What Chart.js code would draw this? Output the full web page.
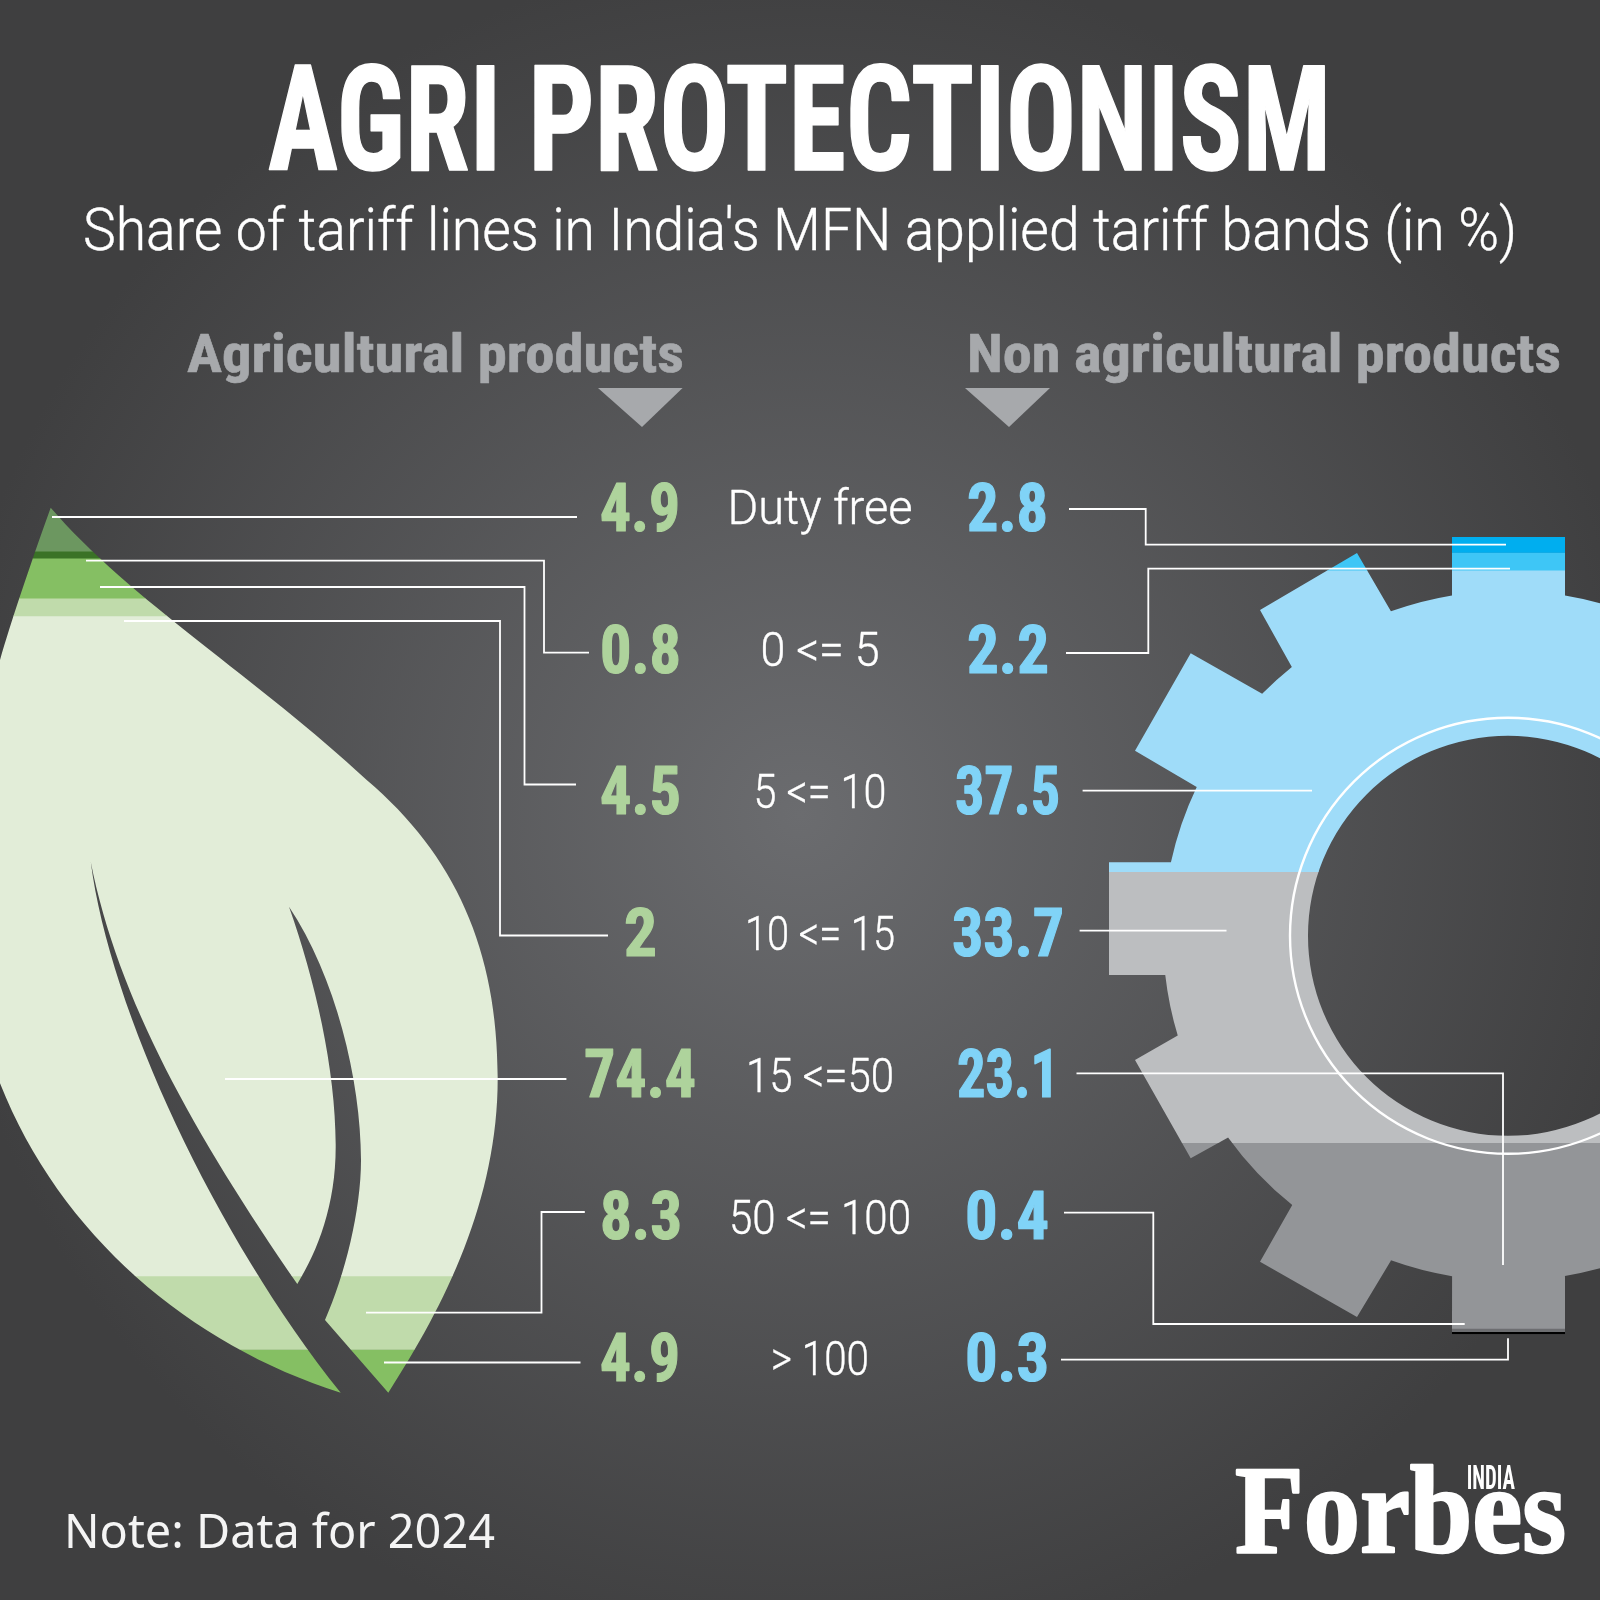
<!DOCTYPE html>
<html><head><meta charset="utf-8">
<style>html,body{margin:0;padding:0;background:#3f3f40}canvas{display:block}</style>
<script src="https://cdn.jsdelivr.net/npm/chart.js@4"></script>
</head><body>
<canvas id="c" width="1600" height="1600"></canvas>
<script>
// ---------- data ----------
const categories = ['Duty free','0 <= 5','5 <= 10','10 <= 15','15 <=50','50 <= 100','> 100'];
const agriValues = [4.9,0.8,4.5,2,74.4,8.3,4.9];
const nonAgriValues = [2.8,2.2,37.5,33.7,23.1,0.4,0.3];
const agriText = ['4.9','0.8','4.5','2','74.4','8.3','4.9'];
const nonAgriText = ['2.8','2.2','37.5','33.7','23.1','0.4','0.3'];
const groups = ['Agricultural products','Non agricultural products'];
const agriColors = ['#6c9760','#3a7226','#85bf63','#c0dbab','#e2edd8','#c0dbab','#85bf63'];
const nonAgriColors = ['#00aeef','#3ec6f6','#9fdcf9','#bcbec0','#939598','#6d6e71','#000000'];

// ---------- layout (decoration, not data) ----------
const NARROW = '"Liberation Sans Narrow","Roboto Condensed",Roboto,sans-serif';
const LIGHT = 'Roboto,sans-serif';
const leafTop = 507.7, leafPxPerUnit = 8.87;
const gearTop = 530, gearPxPerUnit = 8.04;
const gc = {x:1508,y:935.8,body:345,hole:200,ring:218};
// leaf silhouette: start point, then cubic segments (6 numbers) or straight lines (2 numbers)
const leafStart = [50.7,507.7];
const leafOutline = [
 [130,600,260,680,366.7,780],
 [455,855,497.7,950,497.7,1078],
 [497.7,1200,445,1305,388.3,1392.7],
 [325,1320],
 [345,1275,361,1210,361,1160],
 [361,1080,335,975,289,906.7],
 [315,980,336,1070,335.7,1146.7],
 [335.7,1205,318,1250,297.3,1284],
 [195,1135,118,1000,90.7,861.7],
 [110,1010,215,1235,340.7,1392.7],
 [190,1345,60,1235,0,1083.3],
 [-10,1055],[-10,660],[0,660],
 [10,625,30,565,50.7,507.7]
];
// gear outline: 'L' straight corner, 'A' arc along the body circle to this point
const gearOutline = [
 ['L',1565,595.7],['L',1565,537],['L',1452,537],['L',1452,595.7],
 ['A',1390.7,610.7],['L',1357,553],['L',1260,610],['L',1291.7,666.7],
 ['A',1261.7,693.3],['L',1190.7,653.3],['L',1135,750.7],['L',1196.7,787],
 ['A',1171,862.3],['L',1109,862.3],['L',1109,975],['L',1166,975],
 ['A',1177.3,1035.7],['L',1135,1060],['L',1190.7,1158.3],['L',1227.7,1137.7],
 ['A',1291.7,1205.7],['L',1260,1261.7],['L',1357,1317],['L',1390.7,1261],
 ['A',1452,1276.7],['L',1452,1334.3],['L',1565,1334.3],['L',1565,1276.7],
 ['A',1565,595.7]
];
const leaders = [
 [[52,517],[577,517]],
 [[86,560.7],[544,560.7],[544,652.7],[589,652.7]],
 [[100,587],[524.5,587],[524.5,784.5],[576,784.5]],
 [[124,621],[500,621],[500,935.5],[608,935.5]],
 [[225,1079],[566.4,1079]],
 [[366,1312.7],[541.5,1312.7],[541.5,1212],[584.8,1212]],
 [[384,1362.5],[580.5,1362.5]],
 [[1069,509],[1145.7,509],[1145.7,544.7],[1506,544.7]],
 [[1066,653],[1148.3,653],[1148.3,568.7],[1510,568.7]],
 [[1082.6,790.7],[1312,790.7]],
 [[1079.6,930.6],[1226.5,930.6]],
 [[1076.5,1073.3],[1503,1073.3],[1503,1265]],
 [[1064,1212.7],[1153.3,1212.7],[1153.3,1324],[1464.7,1324]],
 [[1061,1359.7],[1508,1359.7],[1508,1338.3]]
];
const valueBaselines = [531,672.5,814,955.5,1097,1238.5,1380.5];
const catBaselines = [524,666,808,950,1092,1233.5,1375];
const catWidths = [185,119,133,150,148,182,98];
const agriExtent = [[600,680],[600,681],[600,681],[624,657],[584,696],[600,682],[600,680]];
const nonAgriExtent = [[967,1048],[967,1049],[955,1060],[952,1064],[957,1059],[965,1049],[965,1049]];

function leafPath(ctx){
  ctx.beginPath();
  ctx.moveTo(leafStart[0],leafStart[1]);
  leafOutline.forEach(s=>{
    if(s.length===2) ctx.lineTo(s[0],s[1]);
    else ctx.bezierCurveTo(s[0],s[1],s[2],s[3],s[4],s[5]);
  });
  ctx.closePath();
}
function gearPath(ctx){
  ctx.beginPath();
  let prev=null;
  gearOutline.forEach((s,i)=>{
    if(i===0){ctx.moveTo(s[1],s[2]);}
    else if(s[0]==='L'){ctx.lineTo(s[1],s[2]);}
    else{
      const a0=Math.atan2(prev[2]-gc.y,prev[1]-gc.x),a1=Math.atan2(s[2]-gc.y,s[1]-gc.x);
      ctx.arc(gc.x,gc.y,gc.body,a0,a1,true);
    }
    prev=s;
  });
  ctx.closePath();
  ctx.moveTo(gc.x+gc.hole,gc.y);
  ctx.arc(gc.x,gc.y,gc.hole,0,Math.PI*2);
}
function text(ctx,str,font,color,x0,x1,base,bold){
  ctx.save();
  ctx.font=font;ctx.fillStyle=color;ctx.textAlign='left';ctx.textBaseline='alphabetic';
  const w=ctx.measureText(str).width;
  ctx.translate(x0,base);ctx.scale((x1-x0)/w,1);
  if(bold){ctx.strokeStyle=color;ctx.lineWidth=bold;ctx.lineJoin='round';ctx.strokeText(str,0,0);}
  ctx.fillText(str,0,0);
  ctx.restore();
}

const shapes = {
  id:'shapes',
  beforeDraw(chart){
    const ctx=chart.ctx;
    const g=ctx.createRadialGradient(800,815,0,800,815,860);
    g.addColorStop(0,'#6b6c6f');g.addColorStop(1,'#3f3f40');
    ctx.save();ctx.fillStyle=g;ctx.fillRect(0,0,1600,1600);ctx.restore();
  },
  beforeDatasetDraw(chart,args){
    const ctx=chart.ctx;
    ctx.save();
    if(args.meta.yAxisID==='yLeaf'){leafPath(ctx);ctx.clip();}
    else{gearPath(ctx);ctx.clip('evenodd');}
  },
  afterDatasetDraw(chart){chart.ctx.restore();},
  afterDatasetsDraw(chart){
    const ctx=chart.ctx;
    ctx.save();
    ctx.strokeStyle='#ffffff';ctx.lineWidth=2.4;
    ctx.beginPath();ctx.arc(gc.x,gc.y,gc.ring,0,Math.PI*2);ctx.stroke();
    ctx.lineWidth=1.8;ctx.lineJoin='miter';
    leaders.forEach(l=>{
      ctx.beginPath();
      l.forEach((p,i)=>i?ctx.lineTo(p[0],p[1]):ctx.moveTo(p[0],p[1]));
      ctx.stroke();
    });
    ctx.fillStyle='#a7a9ac';
    [[598,682.6,642],[965,1050,1009]].forEach(t=>{
      ctx.beginPath();ctx.moveTo(t[0],388);ctx.lineTo(t[1],388);ctx.lineTo(t[2],427);ctx.closePath();ctx.fill();
    });
    ctx.restore();
    text(ctx,'AGRI PROTECTIONISM','bold 146px '+NARROW,'#ffffff',268,1331,170,1.5);
    text(ctx,"Share of tariff lines in India's MFN applied tariff bands (in %)",'300 60px '+LIGHT,'#ffffff',83,1517,250,0.4);
    text(ctx,groups[0],'bold 54px '+NARROW,'#a7a9ac',187,684,372,0.6);
    text(ctx,groups[1],'bold 54px '+NARROW,'#a7a9ac',967,1561,372,0.6);
    categories.forEach((c,i)=>{
      const cx=820,w=catWidths[i];
      text(ctx,c,'300 49px '+LIGHT,'#ffffff',cx-w/2,cx+w/2,catBaselines[i],0.4);
      text(ctx,agriText[i],'bold 67px '+NARROW,'#aed39c',agriExtent[i][0],agriExtent[i][1],valueBaselines[i],1.2);
      text(ctx,nonAgriText[i],'bold 67px '+NARROW,'#80d3f7',nonAgriExtent[i][0],nonAgriExtent[i][1],valueBaselines[i],1.2);
    });
    text(ctx,'Note: Data for 2024','400 47px "Noto Sans",sans-serif','#f4f4f4',64,495,1548);
    text(ctx,'Forbes','bold 124px "Liberation Serif",serif','#ffffff',1235,1566,1551.7,2.5);
    text(ctx,'INDIA','bold 33px '+NARROW,'#ffffff',1466.7,1515,1488.7);
  }
};

function mk(values,colors,axis,idx,names){
  return values.map((v,i)=>({
    label:names[i]+' ('+groups[idx]+')',
    data: idx===0?[v,null]:[null,v],
    backgroundColor:colors[i],
    borderWidth:0,
    yAxisID:axis,
    barPercentage:1,categoryPercentage:1
  }));
}
function yScale(top,k){
  return {display:false,stacked:true,reverse:true,min:-top/k,max:(1600-top)/k};
}
new Chart(document.getElementById('c'),{
  type:'bar',
  data:{labels:groups,datasets:[
    ...mk(agriValues,agriColors,'yLeaf',0,categories),
    ...mk(nonAgriValues,nonAgriColors,'yGear',1,categories)
  ]},
  options:{
    responsive:false,animation:false,devicePixelRatio:1,
    layout:{padding:0},
    plugins:{legend:{display:false},title:{display:false},tooltip:{enabled:false}},
    scales:{
      x:{display:false,stacked:true,offset:true},
      yLeaf:yScale(leafTop,leafPxPerUnit),
      yGear:yScale(gearTop,gearPxPerUnit)
    }
  },
  plugins:[shapes]
});
</script>
</body></html>
